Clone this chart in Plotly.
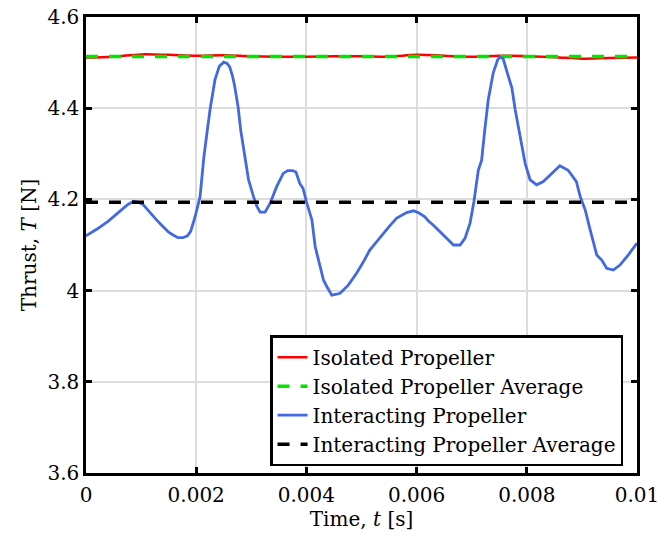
import plotly.graph_objects as go

# ---- data ----
t_iso = [0.0, 0.0005, 0.001, 0.0015, 0.002, 0.0025, 0.003, 0.0035, 0.004, 0.0045, 0.005,
         0.0055, 0.006, 0.0065, 0.007, 0.0075, 0.008, 0.0085, 0.009, 0.0095, 0.01]
T_iso = [4.511, 4.513, 4.518, 4.517, 4.515, 4.516, 4.514, 4.513, 4.513, 4.514, 4.514,
         4.513, 4.517, 4.515, 4.513, 4.515, 4.514, 4.512, 4.5086, 4.510, 4.511]
T_iso_avg = 4.5135

t_int = [0.0, 0.0002, 0.0004, 0.0006, 0.00075, 0.00086, 0.00095, 0.00104, 0.00115, 0.00128,
         0.0014, 0.0015, 0.00158, 0.00167, 0.00176, 0.00184, 0.0019, 0.00198, 0.00207, 0.00214,
         0.0022, 0.00225, 0.00234, 0.00242, 0.0025, 0.00256, 0.00261, 0.00266, 0.0027, 0.00276,
         0.00281, 0.00286, 0.00295, 0.00304, 0.0031, 0.00316, 0.00325, 0.00334, 0.00346, 0.00358,
         0.00366, 0.00375, 0.00381, 0.00388, 0.00394, 0.004, 0.0041, 0.00416, 0.00425, 0.00431,
         0.00437, 0.00446, 0.00455, 0.00461, 0.00476, 0.00491, 0.00503, 0.00515, 0.00528, 0.0054,
         0.00552, 0.00564, 0.00582, 0.00594, 0.00603, 0.00615, 0.00622, 0.0063, 0.00642, 0.00655,
         0.00667, 0.00679, 0.00688, 0.00697, 0.00704, 0.00712, 0.00718, 0.00724, 0.0073, 0.00739,
         0.00747, 0.00751, 0.00757, 0.00763, 0.00773, 0.00779, 0.00788, 0.00797, 0.00806, 0.00818,
         0.0083, 0.00845, 0.0086, 0.00875, 0.0089, 0.00897, 0.00906, 0.00915, 0.00927, 0.00936,
         0.00945, 0.00957, 0.00969, 0.00984, 0.01]
T_int = [4.120, 4.135, 4.152, 4.172, 4.188, 4.196, 4.194, 4.188, 4.172, 4.155,
         4.140, 4.128, 4.122, 4.116, 4.116, 4.120, 4.130, 4.162, 4.206, 4.294,
         4.350, 4.396, 4.462, 4.492, 4.501, 4.498, 4.490, 4.470, 4.447, 4.403,
         4.350, 4.308, 4.243, 4.206, 4.185, 4.172, 4.172, 4.191, 4.228, 4.257,
         4.263, 4.263, 4.260, 4.235, 4.224, 4.195, 4.155, 4.096, 4.052, 4.023,
         4.009, 3.990, 3.992, 3.994, 4.012, 4.038, 4.062, 4.089, 4.108, 4.126,
         4.143, 4.159, 4.171, 4.175, 4.171, 4.162, 4.152, 4.144, 4.129, 4.115,
         4.100, 4.100, 4.115, 4.148, 4.195, 4.264, 4.286, 4.355, 4.418, 4.477,
         4.506, 4.512, 4.509, 4.484, 4.444, 4.396, 4.338, 4.279, 4.243, 4.232,
         4.239, 4.257, 4.274, 4.264, 4.239, 4.206, 4.177, 4.133, 4.078, 4.067,
         4.049, 4.045, 4.056, 4.078, 4.104]
T_int_avg = 4.194

x_ticks = [0, 0.002, 0.004, 0.006, 0.008, 0.01]
x_tick_labels = ["0", "0.002", "0.004", "0.006", "0.008", "0.01"]
y_ticks = [3.6, 3.8, 4.0, 4.2, 4.4, 4.6]
y_tick_labels = ["3.6", "3.8", "4", "4.2", "4.4", "4.6"]

FONT = "DejaVu Serif"
FS = 20

fig = go.Figure()
fig.add_trace(go.Scatter(x=t_iso, y=T_iso, mode="lines", name="Isolated Propeller",
                         line=dict(color="#ff0000", width=2.5, shape="spline")))
fig.add_trace(go.Scatter(x=[0, 0.01], y=[T_iso_avg, T_iso_avg], mode="lines",
                         name="Isolated Propeller Average",
                         line=dict(color="#00e600", width=3.5, dash="12px,11px")))
fig.add_trace(go.Scatter(x=t_int, y=T_int, mode="lines", name="Interacting Propeller",
                         line=dict(color="#4169e1", width=2.8)))
fig.add_trace(go.Scatter(x=[0, 0.01], y=[T_int_avg, T_int_avg], mode="lines",
                         name="Interacting Propeller Average",
                         line=dict(color="#000000", width=3.5, dash="12px,11px")))

axis_common = dict(
    showline=True, linecolor="black", linewidth=2.5, mirror="allticks",
    ticks="inside", ticklen=6, tickwidth=2.5, tickcolor="black",
    showgrid=True, gridcolor="#dcdcdc", gridwidth=2, zeroline=False,
    tickfont=dict(family=FONT, size=FS, color="black"),
    automargin=False, ticklabeloverflow="allow",
)

fig.update_xaxes(range=[0, 0.01], tickvals=x_ticks, ticktext=x_tick_labels,
                 ticklabelstandoff=2,
                 title=dict(text="Time, <i>t</i> [s]", font=dict(family=FONT, size=FS, color="black"),
                            standoff=6),
                 **axis_common)
fig.update_yaxes(range=[3.6, 4.6], tickvals=y_ticks, ticktext=y_tick_labels,
                 title=dict(text="Thrust, <i>T</i> [N]", font=dict(family=FONT, size=FS, color="black"),
                            standoff=6),
                 **axis_common)

fig.update_layout(
    width=660, height=544,
    margin=dict(l=86, r=23, t=17, b=71),
    paper_bgcolor="white", plot_bgcolor="white",
    font=dict(family=FONT, size=FS, color="black"),
    showlegend=True,
    legend=dict(x=0.334, y=0.015, xanchor="left", yanchor="bottom",
                bgcolor="white", bordercolor="black", borderwidth=2.5,
                font=dict(family=FONT, size=FS, color="black"),
                itemwidth=30, tracegroupgap=0),
)

# remove the default 8px page margin so the figure fills the window exactly
fig.write_html("out.html", config={"displayModeBar": False},
               post_script="document.body.style.margin='0';")
